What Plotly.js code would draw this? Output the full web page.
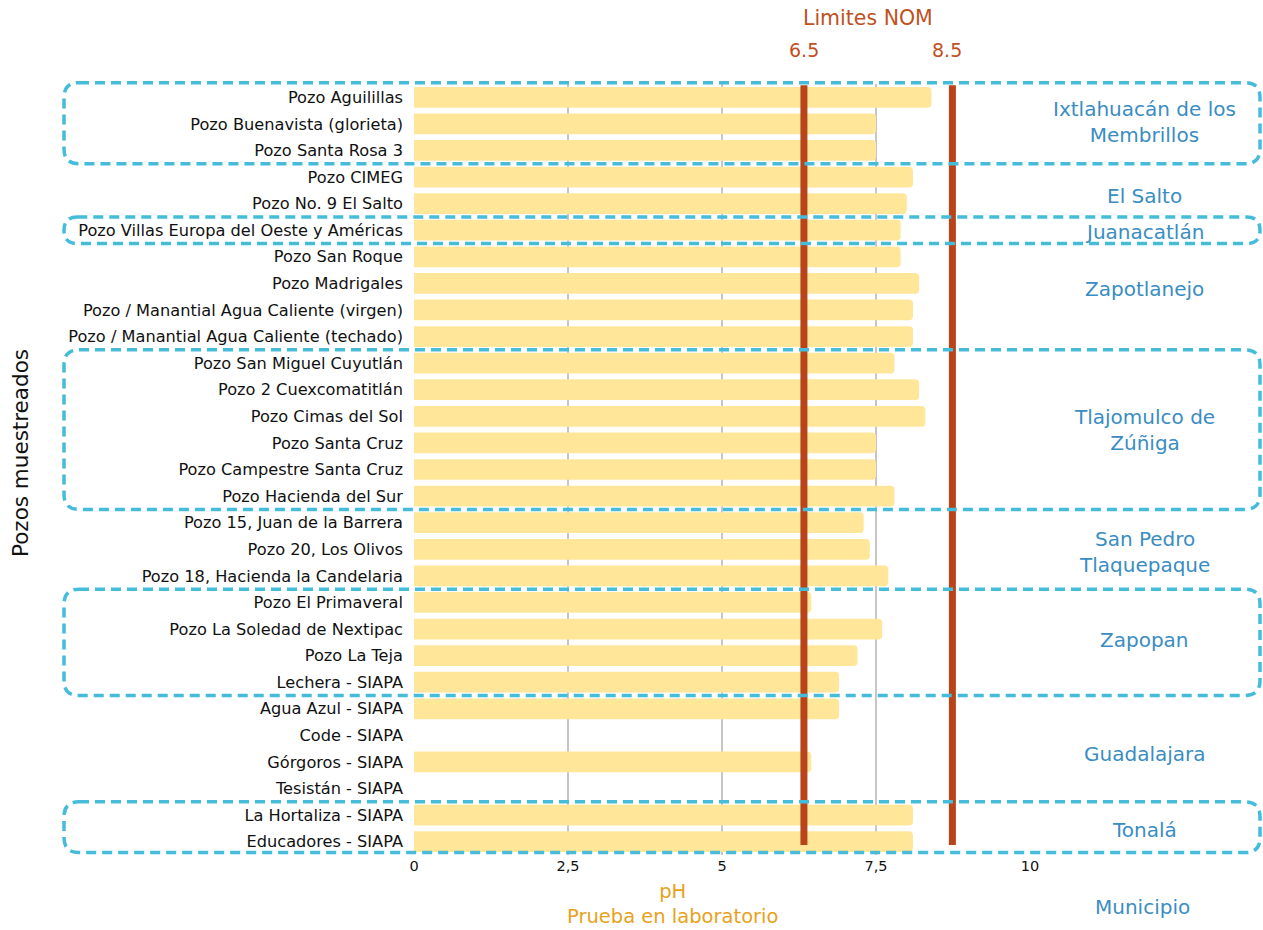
<!DOCTYPE html>
<html>
<head>
<meta charset="utf-8">
<script src="https://cdn.plot.ly/plotly-3.0.1.min.js"></script>
<style>html,body{margin:0;padding:0;background:#fff;}#chart{width:1263px;height:930px;}</style>
</head>
<body>
<div id="chart"></div>
<script>
// ---- data ----
const pozos = [
  'Pozo Aguilillas',
  'Pozo Buenavista (glorieta)',
  'Pozo Santa Rosa 3',
  'Pozo CIMEG',
  'Pozo No. 9 El Salto',
  'Pozo Villas Europa del Oeste y Américas',
  'Pozo San Roque',
  'Pozo Madrigales',
  'Pozo / Manantial Agua Caliente (virgen)',
  'Pozo / Manantial Agua Caliente (techado)',
  'Pozo San Miguel Cuyutlán',
  'Pozo 2 Cuexcomatitlán',
  'Pozo Cimas del Sol',
  'Pozo Santa Cruz',
  'Pozo Campestre Santa Cruz',
  'Pozo Hacienda del Sur',
  'Pozo 15, Juan de la Barrera',
  'Pozo 20, Los Olivos',
  'Pozo 18, Hacienda la Candelaria',
  'Pozo El Primaveral',
  'Pozo La Soledad de Nextipac',
  'Pozo La Teja',
  'Lechera - SIAPA',
  'Agua Azul - SIAPA',
  'Code - SIAPA',
  'Górgoros - SIAPA',
  'Tesistán - SIAPA',
  'La Hortaliza - SIAPA',
  'Educadores - SIAPA'
];
const phLaboratorio = [
  8.4, 7.5, 7.5, 8.1, 8.0, 7.9, 7.9, 8.2, 8.1, 8.1,
  7.8, 8.2, 8.3, 7.5, 7.5, 7.8, 7.3, 7.4, 7.7, 6.45,
  7.6, 7.2, 6.9, 6.9, null, 6.45, null, 8.1, 8.1
];
const limiteLabels = ['6.5', '8.5'];
const limitePosiciones = [6.33, 8.74];   // where the limit lines are drawn in the reference
const municipios = ['Ixtlahuacán de los<br>Membrillos', 'El Salto', 'Juanacatlán', 'Zapotlanejo',
  'Tlajomulco de<br>Zúñiga', 'San Pedro<br>Tlaquepaque', 'Zapopan', 'Guadalajara', 'Tonalá'];
const municipioPrimera = [0, 3, 5, 6, 10, 16, 19, 22, 27];
const municipioUltima  = [2, 4, 5, 9, 15, 18, 22, 26, 28];
const municipioRecuadro = [true, false, true, false, true, false, true, false, true];
const municipioEtiquetaY = [0.94, 3.72, 5.07, 7.2, 12.5, 17.1, 20.4, 24.7, 27.55];

// ---- geometry helpers (paper coords) ----
const N = pozos.length;
const R0 = N - 0.5, R1 = -0.5;          // reversed category range
const plotLeft = 414, plotRight = 1030, plotTop = 84, plotBottom = 855;
const pw = plotRight - plotLeft, ph = plotBottom - plotTop;
function py(idx) { return (R0 - idx) / (R0 - R1); }
function px(pix) { return (pix - plotLeft) / pw; }

function roundedBox(x0p, x1p, topIdx, botIdx) {
  const x0 = px(x0p), x1 = px(x1p);
  const top = py(topIdx), bot = py(botIdx);
  const hpx = (top - bot) * ph;
  const rpx = Math.min(15, hpx / 2);
  const rx = rpx / pw, ry = rpx / ph;
  return `M ${x0 + rx},${top} L ${x1 - rx},${top} Q ${x1},${top} ${x1},${top - ry} ` +
         `L ${x1},${bot + ry} Q ${x1},${bot} ${x1 - rx},${bot} L ${x0 + rx},${bot} ` +
         `Q ${x0},${bot} ${x0},${bot + ry} L ${x0},${top - ry} Q ${x0},${top} ${x0 + rx},${top} Z`;
}

const FONT = '"DejaVu Sans", "Noto Sans", sans-serif';
const RED = '#B8441A';
const BLUE_TXT = '#3A8DC2';
const CYAN = '#45BCDA';
const ORANGE = '#E8A21A';

const shapes = [];
limitePosiciones.forEach(v => {
  shapes.push({type: 'line', xref: 'x', yref: 'y', x0: v, x1: v, y0: -0.45, y1: 28.12,
    line: {color: RED, width: 7}, layer: 'above'});
});
municipios.forEach((m, i) => {
  if (!municipioRecuadro[i]) return;
  let top = municipioPrimera[i] - 0.5, bot = municipioUltima[i] + 0.5;
  if (i === 0) top = -0.55;
  if (i === municipios.length - 1) bot = 28.41;
  shapes.push({type: 'path', xref: 'paper', yref: 'paper', path: roundedBox(64, 1260, top, bot),
    line: {color: CYAN, width: 3.5, dash: '10px,6px'}, fillcolor: 'rgba(0,0,0,0)', layer: 'above'});
});

const annotations = [];
municipios.forEach((m, i) => {
  annotations.push({xref: 'paper', yref: 'y', x: px(1144), y: municipioEtiquetaY[i], text: m,
    showarrow: false, xanchor: 'center', yanchor: 'middle', align: 'center',
    font: {family: FONT, size: 20, color: BLUE_TXT}});
});
annotations.push({xref: 'paper', yref: 'paper', x: px(1142), y: py(30.45), text: 'Municipio',
  showarrow: false, xanchor: 'center', yanchor: 'middle', font: {family: FONT, size: 20, color: BLUE_TXT}});
limiteLabels.forEach((t, i) => {
  annotations.push({xref: 'x', yref: 'paper', x: limitePosiciones[i] - (i === 1 ? 0.08 : 0), y: (plotBottom - 50) / ph, text: t,
    showarrow: false, xanchor: 'center', yanchor: 'middle', font: {family: FONT, size: 19, color: '#C0501E'}});
});
annotations.push({xref: 'paper', yref: 'paper', x: px(868), y: (plotBottom - 18) / ph, text: 'Limites NOM',
  showarrow: false, xanchor: 'center', yanchor: 'middle', font: {family: FONT, size: 20.5, color: '#C0501E'}});
annotations.push({xref: 'paper', yref: 'paper', x: px(672), y: (plotBottom - 904) / ph,
  text: 'pH<br>Prueba en laboratorio', showarrow: false, xanchor: 'center', yanchor: 'middle', align: 'center',
  font: {family: FONT, size: 19.5, color: ORANGE}});
annotations.push({xref: 'paper', yref: 'paper', x: px(20), y: (plotBottom - 453) / ph,
  text: 'Pozos muestreados', textangle: -90, showarrow: false, xanchor: 'center', yanchor: 'middle',
  font: {family: FONT, size: 21.5, color: '#111'}});

const trace = {
  type: 'bar', orientation: 'h', y: pozos, x: phLaboratorio,
  marker: {color: '#FFE699', cornerradius: 4},
  hoverinfo: 'x+y'
};

const layout = {
  width: 1263, height: 930,
  margin: {l: plotLeft, r: 1263 - plotRight, t: plotTop, b: 930 - plotBottom, pad: 0},
  paper_bgcolor: '#fff', plot_bgcolor: '#fff',
  separators: ',.',
  bargap: 0.22,
  showlegend: false,
  font: {family: FONT, color: '#111'},
  xaxis: {range: [0, 10], tickvals: [0, 2.5, 5, 7.5, 10], showgrid: true, gridcolor: '#C6C6C6', gridwidth: 2,
    zeroline: false, showline: false, ticks: '', tickfont: {family: FONT, size: 14.5, color: '#111'},
    ticklabelstandoff: 0, fixedrange: true},
  yaxis: {type: 'category', categoryorder: 'array', categoryarray: pozos, range: [R0, R1],
    showgrid: false, zeroline: false, showline: false, ticks: '',
    tickfont: {family: FONT, size: 16.2, color: '#111'}, ticklabelstandoff: 10, automargin: false, fixedrange: true},
  shapes: shapes,
  annotations: annotations
};

Plotly.newPlot('chart', [trace], layout, {displayModeBar: false, staticPlot: true});
</script>
</body>
</html>
